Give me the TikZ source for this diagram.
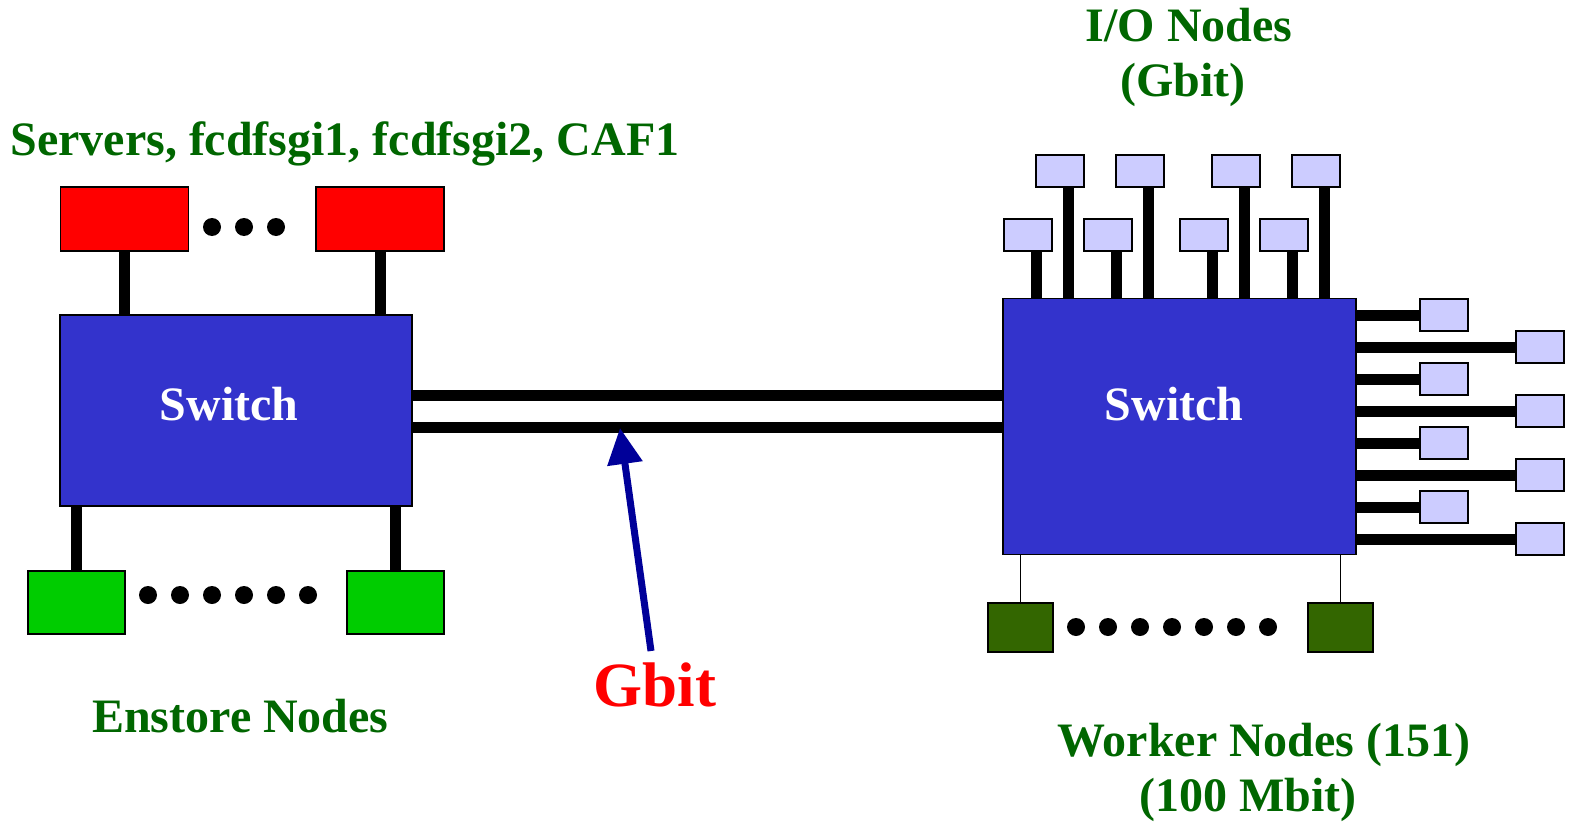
\documentclass[tikz,border=0pt]{standalone}
\usepackage{fontspec}
\setmainfont{Liberation Serif}
\usetikzlibrary{arrows.meta}
\definecolor{labelgreen}{HTML}{006600}
\definecolor{switchblue}{HTML}{3333CC}
\definecolor{serverred}{HTML}{FF0000}
\definecolor{enstoregreen}{HTML}{00CC00}
\definecolor{workergreen}{HTML}{336600}
\definecolor{iolilac}{HTML}{CCCCFF}
\definecolor{arrownavy}{HTML}{000099}
\pgfdeclarelayer{bg}
\pgfsetlayers{bg,main}
\begin{document}
\begin{tikzpicture}[x=1pt,y=-1pt,
  box/.style={draw=black, line width=1.3pt, inner sep=0pt, outer sep=0pt},
  server/.style={box, fill=serverred, minimum width=128pt, minimum height=64pt},
  enstore/.style={box, fill=enstoregreen, minimum width=97pt, minimum height=63pt},
  worker/.style={box, fill=workergreen, minimum width=65pt, minimum height=49pt},
  io/.style={box, fill=iolilac, minimum width=48pt, minimum height=32pt},
  switchbox/.style={box, fill=switchblue},
  wire/.style={draw=black, line width=11pt},
  thinwire/.style={draw=black, line width=1.3pt},
  lbl/.style={text=labelgreen, font=\fontsize{48}{55}\selectfont\bfseries, inner sep=0pt, anchor=base},
  swlbl/.style={text=white, font=\fontsize{48}{55}\selectfont\bfseries, inner sep=0pt, anchor=base},
  gbitlbl/.style={text=serverred, font=\fontsize{63}{70}\selectfont\bfseries, inner sep=0pt, anchor=base},
  gbitarrow/.style={draw=arrownavy, line width=7pt, -{Triangle[length=36pt,width=34pt]}},
  dotmark/.style={fill=black}
]
\useasboundingbox (0,0) rectangle (1573,824);

% ---------- left side ----------
\node[lbl] (srvlbl) at (345,155) {Servers, fcdfsgi1, fcdfsgi2, CAF1};
\node[server] (r1) at (124.5,219) {};
\node[server] (r2) at (380,219) {};
\foreach \x in {212,244,276} \fill[dotmark] (\x,227) circle[radius=9pt];

\node[switchbox, minimum width=352pt, minimum height=191pt] (lsw) at (236,410.5) {};
\node[swlbl] (lswt) at (229,420) {Switch};

\node[enstore] (g1) at (76.5,602.5) {};
\node[enstore] (g2) at (395.5,602.5) {};
\foreach \x in {148,180,212,244,276,308} \fill[dotmark] (\x,595) circle[radius=9pt];
\node[lbl] (enslbl) at (240.5,732) {Enstore Nodes};

% ---------- right side ----------
\node[lbl] (iolbla) at (1189,42) {I/O Nodes};
\node[lbl] (iolblb) at (1183,97) {(Gbit)};

\node[switchbox, minimum width=353pt, minimum height=256pt] (rsw) at (1179.5,426.5) {};
\node[swlbl] (rswt) at (1174,420) {Switch};

% I/O nodes above
\node[io] (iu1) at (1060,171) {};
\node[io] (iu2) at (1140,171) {};
\node[io] (iu3) at (1236,171) {};
\node[io] (iu4) at (1316,171) {};
\node[io] (il1) at (1028,235) {};
\node[io] (il2) at (1108,235) {};
\node[io] (il3) at (1204,235) {};
\node[io] (il4) at (1284,235) {};

% I/O nodes at right
\node[io] (in1) at (1444,315) {};
\node[io] (in2) at (1444,379) {};
\node[io] (in3) at (1444,443) {};
\node[io] (in4) at (1444,507) {};
\node[io] (if1) at (1540,347) {};
\node[io] (if2) at (1540,411) {};
\node[io] (if3) at (1540,475) {};
\node[io] (if4) at (1540,539) {};

% worker nodes
\node[worker] (w1) at (1020.5,627.5) {};
\node[worker] (w2) at (1340.5,627.5) {};
\foreach \x in {1076,1108,1140,1172,1204,1236,1268} \fill[dotmark] (\x,627) circle[radius=9pt];
\node[lbl] (wklbla) at (1264,756) {Worker Nodes (151)};
\node[lbl] (wklblb) at (1248,811) {(100 Mbit)};

% Gbit label and arrow
\node[gbitlbl] (gbit) at (655,706) {Gbit};
\coordinate (gtail) at (651,651);
\coordinate (gtip) at (620,428);
\draw[gbitarrow] (gtail) -- (gtip);

% ---------- connectors (behind boxes) ----------
\begin{pgfonlayer}{bg}
  \draw[wire] (r1.south) -- (r1.south |- lsw.north);
  \draw[wire] (r2.south) -- (r2.south |- lsw.north);
  \draw[wire] (g1.north) -- (g1.north |- lsw.south);
  \draw[wire] (g2.north) -- (g2.north |- lsw.south);
  \coordinate (la) at (lsw.east |- 0,395);
  \coordinate (lb) at (lsw.east |- 0,427);
  \draw[wire] (la) -- (la -| rsw.west);
  \draw[wire] (lb) -- (lb -| rsw.west);
  \foreach \n in {iu1,iu2,iu3,iu4,il1,il2,il3,il4}
    \draw[wire] ([xshift=8pt]\n.south) -- ([xshift=8pt]\n.south |- rsw.north);
  \foreach \n in {in1,in2,in3,in4,if1,if2,if3,if4}
    \draw[wire] (\n.west) -- (\n.west -| rsw.east);
  \draw[thinwire] (w1.north) -- (w1.north |- rsw.south);
  \draw[thinwire] (w2.north) -- (w2.north |- rsw.south);
\end{pgfonlayer}
\end{tikzpicture}
\end{document}
